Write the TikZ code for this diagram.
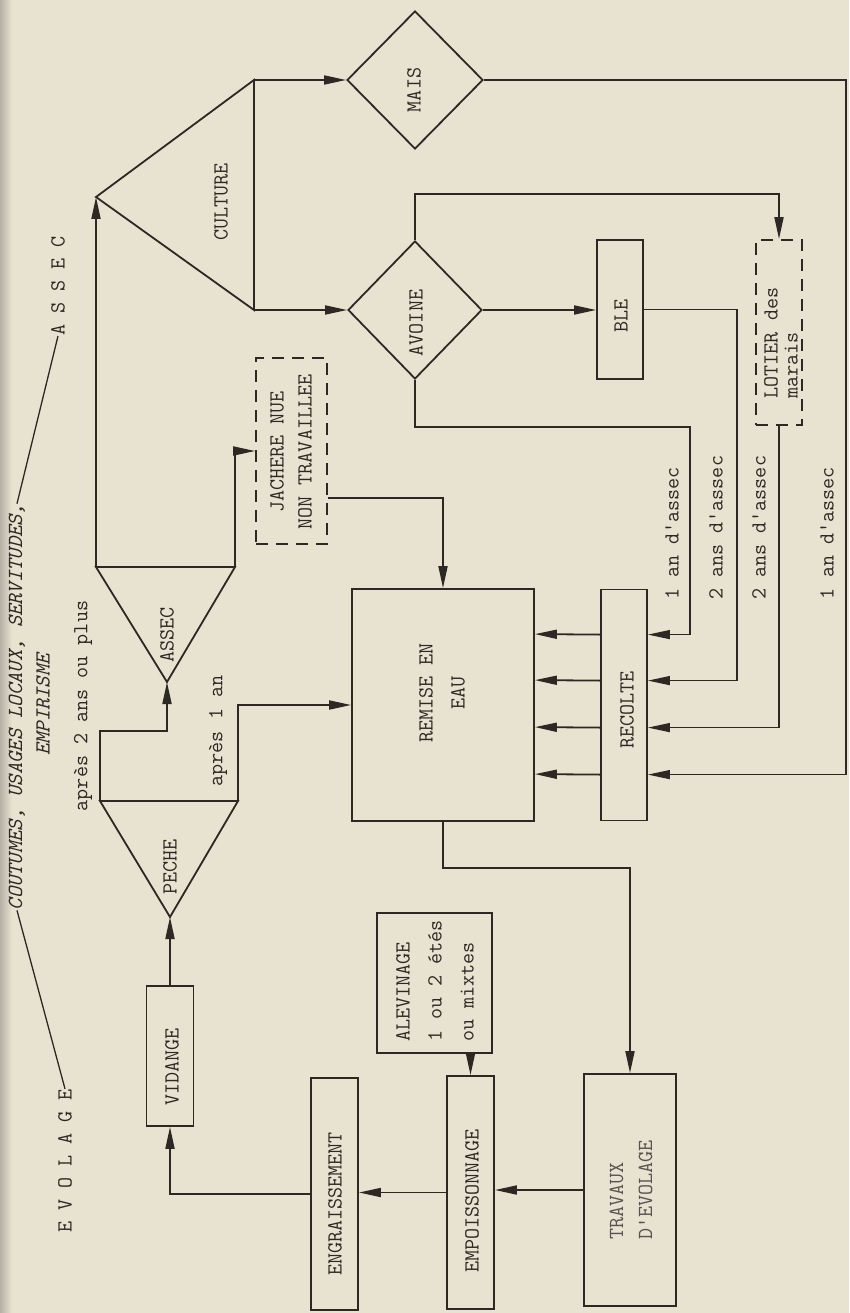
\documentclass[tikz,border=0pt]{standalone}
\usetikzlibrary{shapes.geometric,arrows.meta,calc}
\definecolor{bg}{HTML}{E8E2D1}
\definecolor{ink}{HTML}{2E2824}
\begin{document}
\begin{tikzpicture}[x=1pt,y=-1pt,
  wire/.style={draw=ink,line width=1.8pt},
  thin wire/.style={draw=ink,line width=1.3pt},
  arr/.style={-{Triangle[length=22pt,width=9pt]}},
  box/.style={draw=ink,line width=1.8pt,rectangle,inner sep=0pt},
  dbox/.style={box,dash pattern=on 12pt off 8pt},
  dia/.style={draw=ink,line width=1.8pt,diamond,inner sep=0pt},
  txt/.style={rotate=90,inner sep=0pt,text=ink,font=\ttfamily\fontsize{21.5}{32}\selectfont},
  itxt/.style={txt,font=\ttfamily\itshape\fontsize{21.5}{32}\selectfont}
]
\fill[bg] (0,0) rectangle (849,1313);
\shade[left color=black!22!bg,right color=bg] (0,0) rectangle (12,1313);
\useasboundingbox (0,0) rectangle (849,1313);

% shapes
\node[dia,minimum width=136pt,minimum height=138pt] (mais) at (415,80) {};
\node[dia,minimum width=134pt,minimum height=138pt] (avoine) at (415,310) {};
\node[dbox,minimum width=71pt,minimum height=186pt] (jach) at (291.5,451) {};
\node[dbox,minimum width=46pt,minimum height=185pt] (lotier) at (779,332.5) {};
\node[box,minimum width=46pt,minimum height=139pt] (ble) at (620,309.5) {};
\node[box,minimum width=182pt,minimum height=232pt] (remise) at (443,705) {};
\node[box,minimum width=46pt,minimum height=231pt] (recolte) at (624,705) {};
\node[box,minimum width=47pt,minimum height=140pt] (vid) at (170,1056) {};
\node[box,minimum width=115pt,minimum height=140pt] (alev) at (434.5,983) {};
\node[box,minimum width=47pt,minimum height=232pt] (engr) at (334.5,1194) {};
\node[box,minimum width=47pt,minimum height=233pt] (empo) at (470.5,1192.5) {};
\node[box,minimum width=92pt,minimum height=232pt] (trav) at (630,1190) {};

\coordinate (cA) at (96,197);
\coordinate (cT) at (254,80);
\coordinate (cB) at (254,310);
\coordinate (aL) at (96,567);
\coordinate (aR) at (235,567);
\coordinate (aP) at (167,682);
\coordinate (pL) at (100,801);
\coordinate (pR) at (238,801);
\coordinate (pP) at (170,917);
\draw[wire,line join=miter] (cA) -- (cT) -- (cB) -- cycle;
\draw[wire,line join=miter] (aL) -- (aR) -- (aP) -- cycle;
\draw[wire,line join=miter] (pL) -- (pR) -- (pP) -- cycle;

% texts
\node[txt] (tcult) at (221,202) {CULTURE};
\node[txt] (tmais) at (414,90) {MAIS};
\node[txt] (tavo) at (416,323) {AVOINE};
\node[txt] (tble) at (621,316) {BLE};
\node[txt,align=left,font=\ttfamily\fontsize{21.5}{20}\selectfont] (tlot) at (781,343) {LOTIER des\\marais};
\node[txt,align=center,font=\ttfamily\fontsize{21.5}{28}\selectfont] (tjach) at (291,452) {JACHERE NUE\\NON TRAVAILLEE};
\node[txt] (tassec) at (167,635) {ASSEC};
\node[txt] (tpeche) at (170,867) {PECHE};
\node[txt,align=center] (trem) at (442,693) {REMISE EN\\EAU};
\node[txt] (trec) at (627,710) {RECOLTE};
\node[txt] (tvid) at (172,1067) {VIDANGE};
\node[txt,align=left,font=\ttfamily\fontsize{21.5}{32}\selectfont] (talev) at (435,981) {ALEVINAGE\\1 ou 2 étés\\ou mixtes};
\node[txt] (tengr) at (335,1204) {ENGRAISSEMENT};
\node[txt] (tempo) at (472,1201) {EMPOISSONNAGE};
\node[txt,align=left,text=ink!80,font=\ttfamily\fontsize{21.5}{29}\selectfont] (ttrav) at (631,1190) {TRAVAUX\\D'EVOLAGE};
\node[txt] (tp2) at (83,706) {après 2 ans ou plus};
\node[txt] (tp1) at (218,731) {après 1 an};
\node[txt,anchor=west] (l1) at (672,600) {1 an d'assec};
\node[txt,anchor=west] (l2) at (716,600) {2 ans d'assec};
\node[txt,anchor=west] (l3) at (759,600) {2 ans d'assec};
\node[txt,anchor=west] (l4) at (827,600) {1 an d'assec};
\node[itxt] (cout) at (17,707) {COUTUMES, USAGES LOCAUX, SERVITUDES,};
\node[itxt] (empi) at (43,705) {EMPIRISME};
\node[txt] (lassec) at (58,286) {A S S E C};
\node[txt] (levol) at (65,1161) {E V O L A G E};
\draw[thin wire] (levol.east) -- (cout.west);
\draw[thin wire] (cout.east) -- (lassec.west);

% connectors
\draw[wire,arr] (cT) -- (mais.west);
\draw[wire,arr] (cB) -- (avoine.west);
\draw[wire,arr] (aL) -- (cA);
\draw[wire,arr] (pL) -- ++(0,-70) -| (aP);
\draw[wire,arr] (aR) |- (jach.west);
\draw[wire,arr] (jach.east) ++(0,47) -| (remise.north);
\draw[wire,arr] (pR) |- (remise.west);
\draw[wire,arr] (vid.north) -- (pP);
\draw[wire,arr] (avoine.north) -- ++(0,-46) -| (lotier.north);
\draw[wire,arr] (avoine.east) -- (avoine.east -| ble.west);
\draw[thin wire,arr] (avoine.south) -- ++(0,47) -- ++(275,0) |- ($(recolte.north east)+(0,46)$);
\draw[thin wire,arr] (ble.east) -- ++(93,0) |- ($(recolte.north east)+(0,92)$);
\draw[thin wire,arr] (lotier.south) |- ($(recolte.north east)+(0,139)$);
\draw[thin wire,arr] (mais.east) -- ++(362,0) |- ($(recolte.north east)+(0,186)$);
\foreach \d in {46,92,139,186}
  \draw[wire,arr] ($(recolte.north west)+(0,\d)$) -- ($(remise.north east)+(0,\d)$);
\draw[wire,arr] (remise.south) -- ++(0,46) -| (trav.north);
\draw[wire,arr] (trav.west) -- (trav.west -| empo.east);
\draw[wire,arr] (empo.north |- alev.south) -- (empo.north);
\draw[wire,arr] (empo.west) -- (empo.west -| engr.east);
\draw[wire,arr] (engr.west) -| (vid.south);
\end{tikzpicture}
\end{document}
